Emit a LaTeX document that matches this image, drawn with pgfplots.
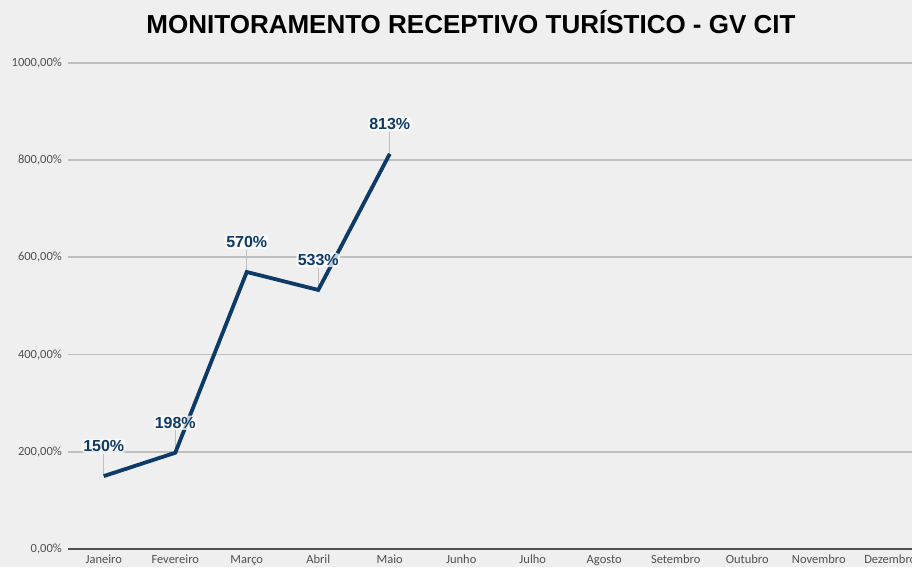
\documentclass[border=0pt]{standalone}
\usepackage{fontspec}
\setmainfont{Carlito}
\newfontfamily\titlefont{Liberation Sans}
\usepackage{pgfplots}
\pgfplotsset{compat=1.18}
\definecolor{bg}{HTML}{EFEFEF}
\definecolor{navy}{HTML}{0E3A66}
\definecolor{gridc}{HTML}{BFBFBF}
\definecolor{ticktxt}{HTML}{505050}
\begin{document}
\begin{tikzpicture}[x=1pt,y=1pt]
\clip (0,0) rectangle (912,567);
\fill[bg] (0,0) rectangle (912,567);
\begin{axis}[
  at={(68pt,18pt)}, anchor=south west,
  scale only axis, width=858pt, height=486pt,
  xmin=-0.5, xmax=11.5, ymin=0, ymax=1000,
  axis lines*=left,
  x axis line style={color=ticktxt, line width=1.5pt, -},
  y axis line style={draw=none},
  xtick={0,...,11},
  xticklabels={Janeiro,Fevereiro,Março,Abril,Maio,Junho,Julho,Agosto,Setembro,Outubro,Novembro,Dezembro},
  ytick={0,200,400,600,800,1000},
  yticklabels={{0,00\%},{200,00\%},{400,00\%},{600,00\%},{800,00\%},{1000,00\%}},
  major tick length=0pt,
  ymajorgrids, grid style={color=gridc, line width=1.8pt},
  tick label style={font=\fontsize{12.5}{14}\selectfont, text=ticktxt},
  xticklabel style={anchor=north, inner sep=0pt, yshift=-6pt},
  yticklabel style={anchor=east, inner sep=0pt, xshift=-6pt},
  clip=false,
]
\addplot[draw=none, mark=none, forget plot,
  error bars/.cd, y dir=plus, y explicit,
  error bar style={color=gridc, line width=0.9pt}, error mark=none]
  table[x=x, y=y, y error=e] {
x y e
0 150 46
1 198 46
2 570 46
3 533 46
4 813 46
};
\addplot[color=navy, line width=3.8pt, mark=none, line join=miter,
  nodes near coords={\pgfmathprintnumber[fixed,precision=0,assume math mode=true]{\pgfplotspointmeta}\%},
  point meta=y,
  every node near coord/.append style={anchor=center, yshift=30pt, inner sep=1.5pt,
    fill=white, fill opacity=0.75, text opacity=1, rounded corners=4pt,
    text=navy, font=\titlefont\bfseries\fontsize{16}{18}\selectfont}]
  table[x=x, y=y] {
x y
0 150
1 198
2 570
3 533
4 813
};
\end{axis}
\node[font=\titlefont\bfseries\fontsize{26}{30}\selectfont, text=black] at (471,545) {MONITORAMENTO RECEPTIVO TURÍSTICO - GV CIT};
\end{tikzpicture}
\end{document}
